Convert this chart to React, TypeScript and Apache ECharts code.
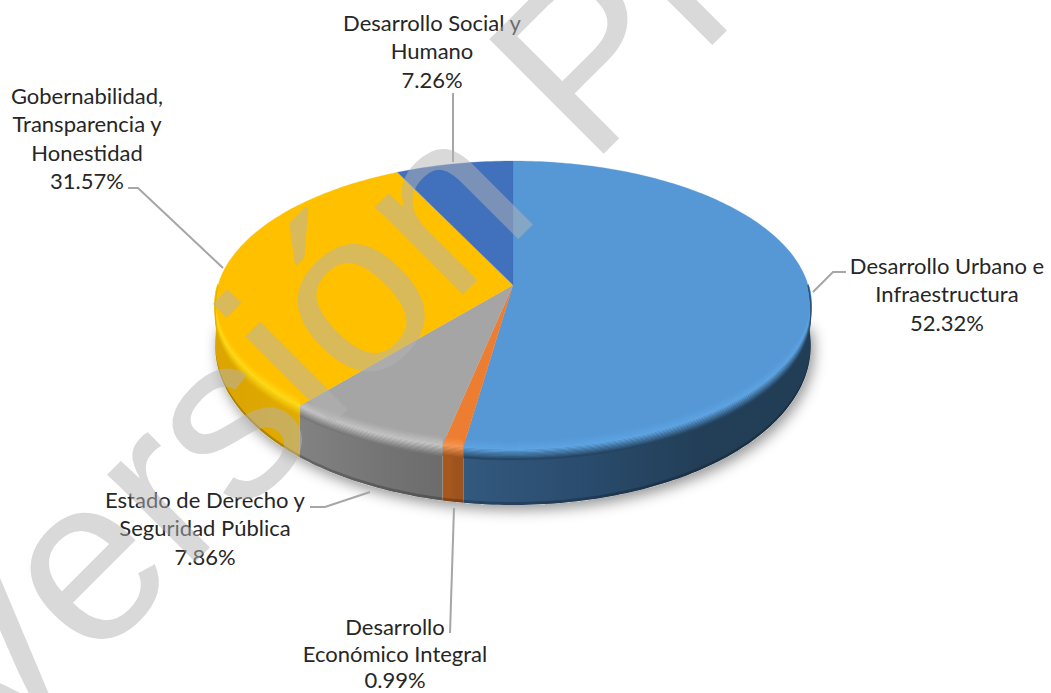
import React, { useEffect, useRef } from "react";
import * as echarts from "echarts";

// ---- data ----
const categories = [
  "Desarrollo Urbano e\nInfraestructura",
  "Desarrollo\nEconómico Integral",
  "Estado de Derecho y\nSeguridad Pública",
  "Gobernabilidad,\nTransparencia y\nHonestidad",
  "Desarrollo Social y\nHumano",
];
const values = [52.32, 0.99, 7.86, 31.57, 7.26];
const watermark = "Versión Preliminar";

// ---- styles per slice ----
const faceColors = ["#5698d6", "#ed7d31", "#a5a5a5", "#ffc000", "#4170bd"];
const rimColors = ["#5fa5e4", "#f59a58", "#c6c6c6", "#ffdc1a", "#4170bd"];
const wallStops: string[][] = [
  ["#33597f", "#2a4c6e", "#233f58", "#223d56"],
  ["#a6581f", "#a6581f", "#9c531e", "#9c531e"],
  ["#828282", "#7a7a7a", "#727272", "#6c6c6c"],
  ["#dca500", "#dca500", "#e0a900", "#e2ab00"],
  ["#2f5290", "#2f5290", "#2f5290", "#2f5290"],
];

// ---- layout of the perspective disc ----
const CX = 513;
const CY = 285;
const RX = 295;
const RY = 141.2;
const P = 0.139;
const WALL_FROM = 90;
const WALL_TO = 270;

// ---- layout of the labels and their leaders ----
const labelAnchors: [number, number, number][] = [
  [947, 251, 28.6],
  [395, 613.5, 26.5],
  [205, 485, 28.6],
  [87, 81, 28.4],
  [432, 8, 28.6],
];
const leaders: [number, number][][] = [
  [[813, 292], [833, 272], [846, 272]],
  [[454, 508], [450, 633]],
  [[310, 507], [325, 507], [370, 492]],
  [[128, 188], [138, 188], [223, 268]],
  [[453, 93], [453, 162]],
];

const rad = (d: number) => (d * Math.PI) / 180;

function project(deg: number, r = 1): [number, number] {
  const s = Math.sin(rad(deg)) * r;
  const d = Math.cos(rad(deg)) * r;
  const w = 1 + P * d;
  return [CX + (RX * s) / w, CY - (RY * d) / w];
}

function wallDepth(deg: number) {
  return 38 + 18 * Math.max(0, -Math.cos(rad(deg)));
}

function arc(from: number, to: number): number[] {
  const out: number[] = [];
  const n = Math.max(2, Math.ceil(to - from));
  for (let i = 0; i <= n; i++) out.push(from + ((to - from) * i) / n);
  return out;
}

function hex(c: string): [number, number, number] {
  return [
    parseInt(c.slice(1, 3), 16),
    parseInt(c.slice(3, 5), 16),
    parseInt(c.slice(5, 7), 16),
  ];
}

function mix(a: string, b: string, t: number, alpha = 1): string {
  const x = hex(a);
  const y = hex(b);
  const c = x.map((v, i) => Math.round(v + (y[i] - v) * t));
  return `rgba(${c[0]},${c[1]},${c[2]},${alpha})`;
}

function bevelFactor(deg: number) {
  const near = -Math.cos(rad(deg));
  return Math.max(0, Math.min(1, (near + 0.02) / 0.25));
}

function renderShadow() {
  const pts = arc(WALL_FROM, WALL_TO).map((deg) => {
    const p = project(deg);
    return [p[0], p[1] + wallDepth(deg)];
  });
  return {
    type: "polygon",
    shape: { points: pts },
    style: {
      fill: "#ffffff",
      shadowColor: "rgba(0,0,0,0.42)",
      shadowBlur: 14,
      shadowOffsetX: 3,
      shadowOffsetY: 5,
    },
  };
}

function renderSlice(params: any) {
  const i = params.dataIndex;
  const total = values.reduce((a, b) => a + b, 0);
  const before = values.slice(0, i).reduce((a, b) => a + b, 0);
  const start = (before / total) * 360;
  const end = ((before + values[i]) / total) * 360;
  const children: any[] = [];

  const wFrom = Math.max(start, WALL_FROM);
  const wTo = Math.min(end, WALL_TO);
  const visible = wTo > wFrom;
  const angles = visible ? arc(wFrom, wTo) : [];

  const edgeBand = (a: (d: number) => number, b: (d: number) => number) => {
    const upper = angles.map((d) => {
      const p = project(d);
      return [p[0], p[1] + a(d)];
    });
    const lower = angles
      .map((d) => {
        const p = project(d);
        return [p[0], p[1] + b(d)];
      })
      .reverse();
    return [...upper, ...lower];
  };

  if (visible) {
    const xs = angles.map((d) => project(d)[0]);
    const x0 = Math.min(...xs);
    const x1 = Math.max(...xs);
    const stops = wallStops[i];
    children.push({
      type: "polygon",
      shape: { points: edgeBand(() => 0, wallDepth) },
      style: {
        fill: {
          type: "linear",
          x: x0,
          y: 0,
          x2: x1,
          y2: 0,
          global: true,
          colorStops: stops.map((color, k) => ({
            offset: k / (stops.length - 1),
            color,
          })),
        },
      },
    });
    children.push({
      type: "polygon",
      shape: { points: edgeBand((d) => wallDepth(d) - 3, wallDepth) },
      style: { fill: "rgba(0,0,0,0.22)" },
    });
  }

  children.push({
    type: "polygon",
    shape: {
      points: [[CX, CY], ...arc(start, end).map((d) => project(d))],
    },
    style: { fill: faceColors[i], stroke: faceColors[i], lineWidth: 0.3 },
  });

  if (visible) {
    const steps = 16;
    const lo = -9;
    const hi = 11;
    const wall = wallStops[i][Math.floor(wallStops[i].length / 2)];
    for (let k = 0; k < steps; k++) {
      const a = lo + ((hi - lo) * k) / steps;
      const b = lo + ((hi - lo) * (k + 1)) / steps;
      const m = (a + b) / 2;
      const color =
        m < 1
          ? mix(faceColors[i], rimColors[i], (m - lo) / (1 - lo))
          : mix(rimColors[i], wall, (m - 1) / (hi - 1));
      children.push({
        type: "polygon",
        shape: {
          points: edgeBand(
            (d) => a * bevelFactor(d),
            (d) => b * bevelFactor(d),
          ),
        },
        style: { fill: color, stroke: color, lineWidth: 0.3 },
      });
    }
  }
  return { type: "group", children };
}

function renderLabel(params: any) {
  const i = params.dataIndex;
  const [x, y, lineHeight] = labelAnchors[i];
  return {
    type: "group",
    children: [
      {
        type: "polyline",
        shape: { points: leaders[i] },
        style: { stroke: "#a6a6a6", lineWidth: 2, fill: "none" },
      },
      {
        type: "text",
        style: {
          x,
          y,
          text: `${categories[i]}\n${values[i].toFixed(2)}%`,
          fill: "#262626",
          font: '22px "Lato"',
          lineHeight,
          align: "center",
          verticalAlign: "top",
        },
      },
    ],
  };
}

export default function App() {
  const ref = useRef<HTMLDivElement>(null);
  useEffect(() => {
    document.body.style.margin = "0";
    document.body.style.background = "#ffffff";
    const chart = echarts.init(ref.current!, undefined, { renderer: "svg" });
    chart.setOption({
      animation: false,
      backgroundColor: "#ffffff",
      tooltip: { show: false },
      series: [
        {
          type: "custom",
          coordinateSystem: "none",
          silent: true,
          z: 1,
          data: [0],
          renderItem: renderShadow,
        },
        {
          type: "custom",
          coordinateSystem: "none",
          silent: true,
          z: 2,
          data: values,
          renderItem: renderSlice,
        },
        {
          type: "custom",
          coordinateSystem: "none",
          silent: true,
          z: 3,
          data: values,
          renderItem: renderLabel,
        },
      ],
      graphic: [
        {
          type: "text",
          z: 100,
          silent: true,
          x: -68,
          y: 710,
          rotation: Math.PI / 4,
          style: {
            text: watermark,
            font: '235px "Liberation Sans"',
            fill: "rgba(179,179,179,0.5)",
            align: "left",
            verticalAlign: "middle",
          },
        },
      ],
    });
    return () => chart.dispose();
  }, []);
  return (
    <div
      ref={ref}
      style={{ position: "absolute", left: 0, top: 0, width: 1051, height: 693, overflow: "hidden" }}
    />
  );
}
